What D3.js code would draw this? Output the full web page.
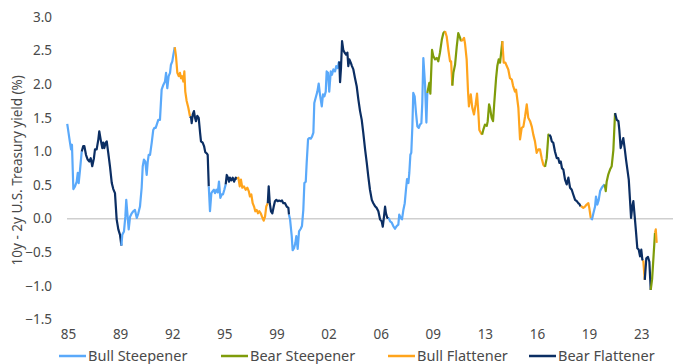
<!DOCTYPE html>
<html>
<head>
<meta charset="utf-8">
<script src="https://cdn.jsdelivr.net/npm/d3@7"></script>
<style>
  body { margin: 0; background: #fff; }
  svg { display: block; font-family: "Noto Sans", sans-serif; }
</style>
</head>
<body>
<svg id="chart" width="673" height="364"></svg>
<script>
// legend categories, in order
const regimes = ["Bull Steepener", "Bear Steepener", "Bull Flattener", "Bear Flattener"];
const regimeColors = ["#5aa9fa", "#7f9c0a", "#ffa41c", "#0b2e63"];

const yTicks = [-1.5, -1.0, -0.5, 0.0, 0.5, 1.0, 1.5, 2.0, 2.5, 3.0];
const xTickLabels = ["85", "89", "92", "95", "99", "02", "06", "09", "13", "16", "19", "23"];
const xFirstTick = 1985.7;   // the category axis puts a label every 41 months
const xTickStep = 41 / 12;

// 10y - 2y spread, [decimal year, %], split into runs by regime index
const spreadRuns = [
  [0, [[1985.65,1.41],[1985.83,1.13],[1985.90,1.03],[1985.96,1.10],[1986.05,0.44],[1986.16,0.48],[1986.27,0.55],[1986.34,0.68],[1986.40,0.53],[1986.49,0.73],[1986.60,1.00]]],
  [3, [[1986.70,1.08],[1986.77,1.08],[1986.88,0.95],[1986.99,0.88],[1987.10,0.85],[1987.19,0.90],[1987.29,0.78],[1987.40,0.90],[1987.47,1.03],[1987.58,1.03],[1987.69,1.18],[1987.75,1.30],[1987.84,1.18],[1987.95,1.05],[1988.01,1.13],[1988.08,1.05],[1988.17,1.13],[1988.24,1.15],[1988.34,0.98],[1988.45,0.78],[1988.57,0.53],[1988.67,0.44],[1988.78,0.38],[1988.89,-0.01],[1989.00,-0.16],[1989.11,-0.24],[1989.20,-0.40]]],
  [0, [[1989.26,-0.24],[1989.37,-0.19],[1989.46,0.03],[1989.52,0.28],[1989.61,0.03],[1989.68,-0.16],[1989.77,0.03],[1989.88,0.08],[1989.98,0.11],[1990.09,0.13],[1990.21,0.01],[1990.31,0.08],[1990.42,0.18],[1990.53,0.46],[1990.60,0.78],[1990.68,0.88],[1990.77,0.85],[1990.86,0.65],[1990.93,0.85],[1990.99,0.95],[1991.08,0.95],[1991.19,1.13],[1991.29,1.32],[1991.36,1.35],[1991.45,1.35],[1991.52,1.40],[1991.62,1.47],[1991.73,1.47],[1991.84,1.92],[1991.95,1.99],[1992.06,2.04],[1992.13,2.17],[1992.21,1.94],[1992.30,2.12],[1992.39,2.17],[1992.45,2.29],[1992.54,2.34],[1992.61,2.44],[1992.70,2.55]]],
  [2, [[1992.78,2.42],[1992.87,2.17],[1992.96,2.12],[1993.04,2.17],[1993.11,2.09],[1993.18,2.12],[1993.26,2.04],[1993.33,2.19],[1993.39,1.89],[1993.48,1.75],[1993.59,1.65],[1993.70,1.52]]],
  [3, [[1993.77,1.50],[1993.81,1.42],[1993.88,1.55],[1993.96,1.60],[1994.03,1.50],[1994.09,1.45],[1994.18,1.53],[1994.27,1.50],[1994.36,1.28],[1994.42,1.15],[1994.53,1.13],[1994.62,1.08],[1994.70,0.99],[1994.80,0.97],[1994.86,0.95],[1994.93,0.48]]],
  [0, [[1995.01,0.11],[1995.10,0.38],[1995.19,0.41],[1995.27,0.43],[1995.34,0.38],[1995.43,0.43],[1995.52,0.39],[1995.60,0.55],[1995.69,0.31],[1995.78,0.36],[1995.86,0.36],[1995.95,0.43],[1996.04,0.51]]],
  [3, [[1996.11,0.65],[1996.19,0.61],[1996.26,0.55],[1996.32,0.61],[1996.41,0.57],[1996.50,0.61],[1996.59,0.55],[1996.70,0.61],[1996.80,0.59]]],
  [2, [[1996.87,0.61],[1996.96,0.48],[1997.04,0.58],[1997.13,0.46],[1997.24,0.48],[1997.35,0.43],[1997.46,0.46],[1997.55,0.41],[1997.63,0.33],[1997.72,0.36],[1997.81,0.23],[1997.90,0.18],[1997.98,0.11],[1998.07,0.13],[1998.16,0.08],[1998.24,0.11],[1998.34,0.08],[1998.42,0.03],[1998.53,-0.03],[1998.62,0.03],[1998.70,0.18],[1998.80,0.23]]],
  [3, [[1998.86,0.48],[1998.93,0.23],[1999.01,0.11],[1999.10,0.08],[1999.19,0.18],[1999.27,0.26],[1999.36,0.28],[1999.45,0.26],[1999.54,0.27],[1999.65,0.26],[1999.73,0.27],[1999.82,0.23],[1999.93,0.23],[2000.04,0.18],[2000.15,0.16],[2000.19,0.06]]],
  [0, [[2000.26,-0.01],[2000.37,-0.26],[2000.43,-0.47],[2000.52,-0.44],[2000.61,-0.36],[2000.67,-0.26],[2000.76,-0.45],[2000.85,-0.19],[2000.96,-0.15],[2001.04,-0.11],[2001.13,0.13],[2001.20,0.53],[2001.29,0.55],[2001.35,0.83],[2001.44,1.18],[2001.52,1.20],[2001.62,1.19],[2001.70,1.22],[2001.79,1.28],[2001.85,1.72],[2001.94,1.80],[2002.05,1.89],[2002.14,2.01],[2002.22,1.85],[2002.34,1.67],[2002.42,1.85],[2002.51,1.82],[2002.60,1.89],[2002.66,2.19],[2002.75,2.17],[2002.83,1.89],[2002.93,2.19],[2003.01,2.14],[2003.10,2.22],[2003.21,2.19],[2003.29,2.27],[2003.39,2.24],[2003.45,2.32],[2003.49,2.34]]],
  [3, [[2003.54,2.03],[2003.60,2.24],[2003.67,2.64],[2003.75,2.51],[2003.84,2.47],[2003.93,2.44],[2004.02,2.47],[2004.08,2.27],[2004.15,2.37],[2004.24,2.32],[2004.32,2.27],[2004.41,2.22],[2004.52,2.09],[2004.63,1.97],[2004.74,1.77],[2004.85,1.60],[2004.96,1.47],[2005.06,1.28],[2005.18,1.03],[2005.29,0.83],[2005.39,0.63],[2005.50,0.43],[2005.62,0.28],[2005.72,0.23],[2005.85,0.18],[2005.94,0.16],[2006.05,0.11],[2006.16,-0.01],[2006.27,-0.04],[2006.34,-0.12],[2006.42,0.03],[2006.49,0.18],[2006.55,0.08],[2006.64,0.01],[2006.73,0.01]]],
  [0, [[2006.82,-0.04],[2006.93,-0.06],[2007.03,-0.11],[2007.14,-0.15],[2007.25,-0.11],[2007.36,-0.09],[2007.42,0.06],[2007.52,0.01],[2007.60,-0.01],[2007.69,0.13],[2007.78,0.23],[2007.86,0.43],[2007.93,0.59],[2008.02,0.53],[2008.08,0.68],[2008.15,0.95],[2008.21,0.98],[2008.28,1.37],[2008.34,1.87],[2008.43,1.82],[2008.52,1.57],[2008.61,1.37],[2008.70,1.35],[2008.78,1.40],[2008.87,1.42],[2008.93,1.72],[2009.00,2.39],[2009.11,2.00],[2009.20,1.43],[2009.26,1.87]]],
  [1, [[2009.39,2.02],[2009.46,1.86],[2009.57,2.51],[2009.65,2.42],[2009.77,2.37],[2009.88,2.39],[2009.98,2.34],[2010.09,2.47],[2010.21,2.66],[2010.31,2.76],[2010.42,2.79]]],
  [2, [[2010.53,2.71],[2010.64,2.51],[2010.75,2.34],[2010.82,2.34],[2010.90,1.98]]],
  [1, [[2010.97,2.17],[2011.08,2.29],[2011.19,2.56],[2011.29,2.76],[2011.41,2.69],[2011.47,2.64]]],
  [2, [[2011.58,2.66],[2011.67,2.69],[2011.73,2.61],[2011.84,2.37],[2011.93,1.89],[2011.99,1.67],[2012.11,1.85],[2012.21,1.65],[2012.32,1.55],[2012.43,1.70],[2012.52,1.86],[2012.61,1.57],[2012.67,1.32],[2012.76,1.28],[2012.85,1.25]]],
  [1, [[2012.93,1.32],[2013.04,1.40],[2013.16,1.38],[2013.22,1.45],[2013.31,1.70],[2013.37,1.65],[2013.48,1.50],[2013.57,1.45],[2013.65,1.72],[2013.77,2.09],[2013.85,2.27],[2013.94,2.37],[2014.03,2.32],[2014.11,2.49],[2014.18,2.64]]],
  [2, [[2014.27,2.32],[2014.38,2.32],[2014.47,2.27],[2014.57,2.22],[2014.68,2.09],[2014.80,2.07],[2014.88,1.98],[2015.01,1.89],[2015.08,1.92],[2015.23,1.65],[2015.34,1.18],[2015.45,1.35],[2015.56,1.37],[2015.67,1.52],[2015.78,1.70],[2015.88,1.50],[2016.00,1.45],[2016.11,1.37],[2016.21,1.25],[2016.32,1.15],[2016.43,0.98],[2016.54,1.03],[2016.65,1.03],[2016.76,0.90],[2016.87,0.80],[2016.98,0.77]]],
  [1, [[2017.09,0.90],[2017.20,1.25],[2017.26,1.25]]],
  [3, [[2017.35,1.22],[2017.42,1.15],[2017.52,1.13],[2017.63,1.00],[2017.75,0.90],[2017.85,0.90],[2017.92,0.83],[2018.01,0.85],[2018.09,0.75],[2018.18,0.73],[2018.29,0.58],[2018.40,0.51],[2018.51,0.61],[2018.62,0.46],[2018.73,0.43],[2018.83,0.36],[2018.95,0.28],[2019.06,0.26],[2019.16,0.23],[2019.23,0.22],[2019.32,0.18]]],
  [2, [[2019.39,0.18],[2019.49,0.16],[2019.60,0.18],[2019.71,0.21],[2019.82,0.23],[2019.88,0.16],[2019.98,0.01]]],
  [0, [[2020.06,-0.01],[2020.15,0.08],[2020.26,0.18],[2020.32,0.33],[2020.41,0.21],[2020.50,0.28],[2020.59,0.41],[2020.70,0.46],[2020.80,0.49],[2020.89,0.51]]],
  [1, [[2020.96,0.41],[2021.02,0.55],[2021.13,0.66],[2021.24,0.73],[2021.35,0.78],[2021.46,1.02],[2021.57,1.57]]],
  [3, [[2021.68,1.47],[2021.79,1.45],[2021.85,1.32],[2021.94,1.05],[2022.03,1.13],[2022.11,1.20],[2022.21,1.03],[2022.29,0.88],[2022.38,0.73],[2022.47,0.58],[2022.55,0.28],[2022.62,0.01],[2022.70,0.18],[2022.77,0.26],[2022.86,0.03],[2022.95,-0.21],[2023.03,-0.44],[2023.12,-0.46],[2023.21,-0.56],[2023.29,-0.46],[2023.36,-0.61],[2023.42,-0.62]]],
  [2, [[2023.52,-0.91]]],
  [3, [[2023.62,-0.59],[2023.73,-0.57],[2023.82,-0.64],[2023.91,-1.06]]],
  [1, [[2024.00,-0.90],[2024.08,-0.61],[2024.19,-0.21]]],
  [2, [[2024.24,-0.16],[2024.30,-0.36]]]
];

const svg = d3.select("#chart");
const margin = {top: 17, right: 0, bottom: 44, left: 68};
const width = +svg.attr("width");
const height = +svg.attr("height");
const textColor = "#4a4a4a";

const x = d3.scaleLinear()
  .domain([xFirstTick, 2025.37])
  .range([margin.left, width - margin.right]);
const y = d3.scaleLinear()
  .domain([-1.5, 3.0])
  .range([height - margin.bottom - 0.5, margin.top]);

// zero line
svg.append("line")
  .attr("x1", margin.left - 1)
  .attr("x2", width)
  .attr("y1", y(0))
  .attr("y2", y(0))
  .attr("stroke", "#cfcfcf")
  .attr("stroke-width", 1.5);

// y axis
const yAxis = svg.append("g")
  .attr("transform", "translate(" + (margin.left - 13) + ",0)")
  .call(d3.axisLeft(y).tickValues(yTicks).tickFormat(d3.format(".1f")).tickSize(0));
yAxis.select(".domain").remove();
yAxis.selectAll("text")
  .attr("fill", textColor)
  .style("font-size", "13.5px")
  .style("font-family", "'Noto Sans', sans-serif");

// x axis (labels only)
const xTicks = xTickLabels.map((d, i) => xFirstTick + i * xTickStep);
const xAxis = svg.append("g")
  .attr("transform", "translate(0," + (height - margin.bottom + 6) + ")")
  .call(d3.axisBottom(x).tickValues(xTicks)
    .tickFormat((d, i) => xTickLabels[i]).tickSize(0));
xAxis.select(".domain").remove();
xAxis.selectAll("text")
  .attr("fill", textColor)
  .style("font-size", "13.5px")
  .style("font-family", "'Noto Sans', sans-serif");

// y title
svg.append("text")
  .attr("transform", "translate(22," + ((y(3) + y(-1.5)) / 2 + 2) + ") rotate(-90)")
  .attr("text-anchor", "middle")
  .attr("fill", textColor)
  .style("font-size", "13.5px")
  .text("10y - 2y U.S. Treasury yield (%)");

// the line, one path per regime run, joined to the previous run's last point
const line = d3.line()
  .x(d => x(d[0]))
  .y(d => y(d[1]));

const plot = svg.append("g");
let prev = null;
spreadRuns.forEach(run => {
  const pts = prev ? [prev].concat(run[1]) : run[1];
  plot.append("path")
    .datum(pts)
    .attr("fill", "none")
    .attr("stroke", regimeColors[run[0]])
    .attr("stroke-width", 2.2)
    .attr("stroke-linejoin", "round")
    .attr("stroke-linecap", "butt")
    .attr("d", line);
  prev = run[1][run[1].length - 1];
});

// legend
const legendX = [59, 221, 388, 529];
const legend = svg.append("g").attr("transform", "translate(0," + (height - 8) + ")");
regimes.forEach((name, i) => {
  const item = legend.append("g").attr("transform", "translate(" + legendX[i] + ",0)");
  item.append("line")
    .attr("x1", 0).attr("x2", 27)
    .attr("y1", 0).attr("y2", 0)
    .attr("stroke", regimeColors[i])
    .attr("stroke-width", 2.5);
  item.append("text")
    .attr("x", 29)
    .attr("y", 5)
    .attr("fill", textColor)
    .style("font-size", "14.5px")
    .text(name);
});
</script>
</body>
</html>
